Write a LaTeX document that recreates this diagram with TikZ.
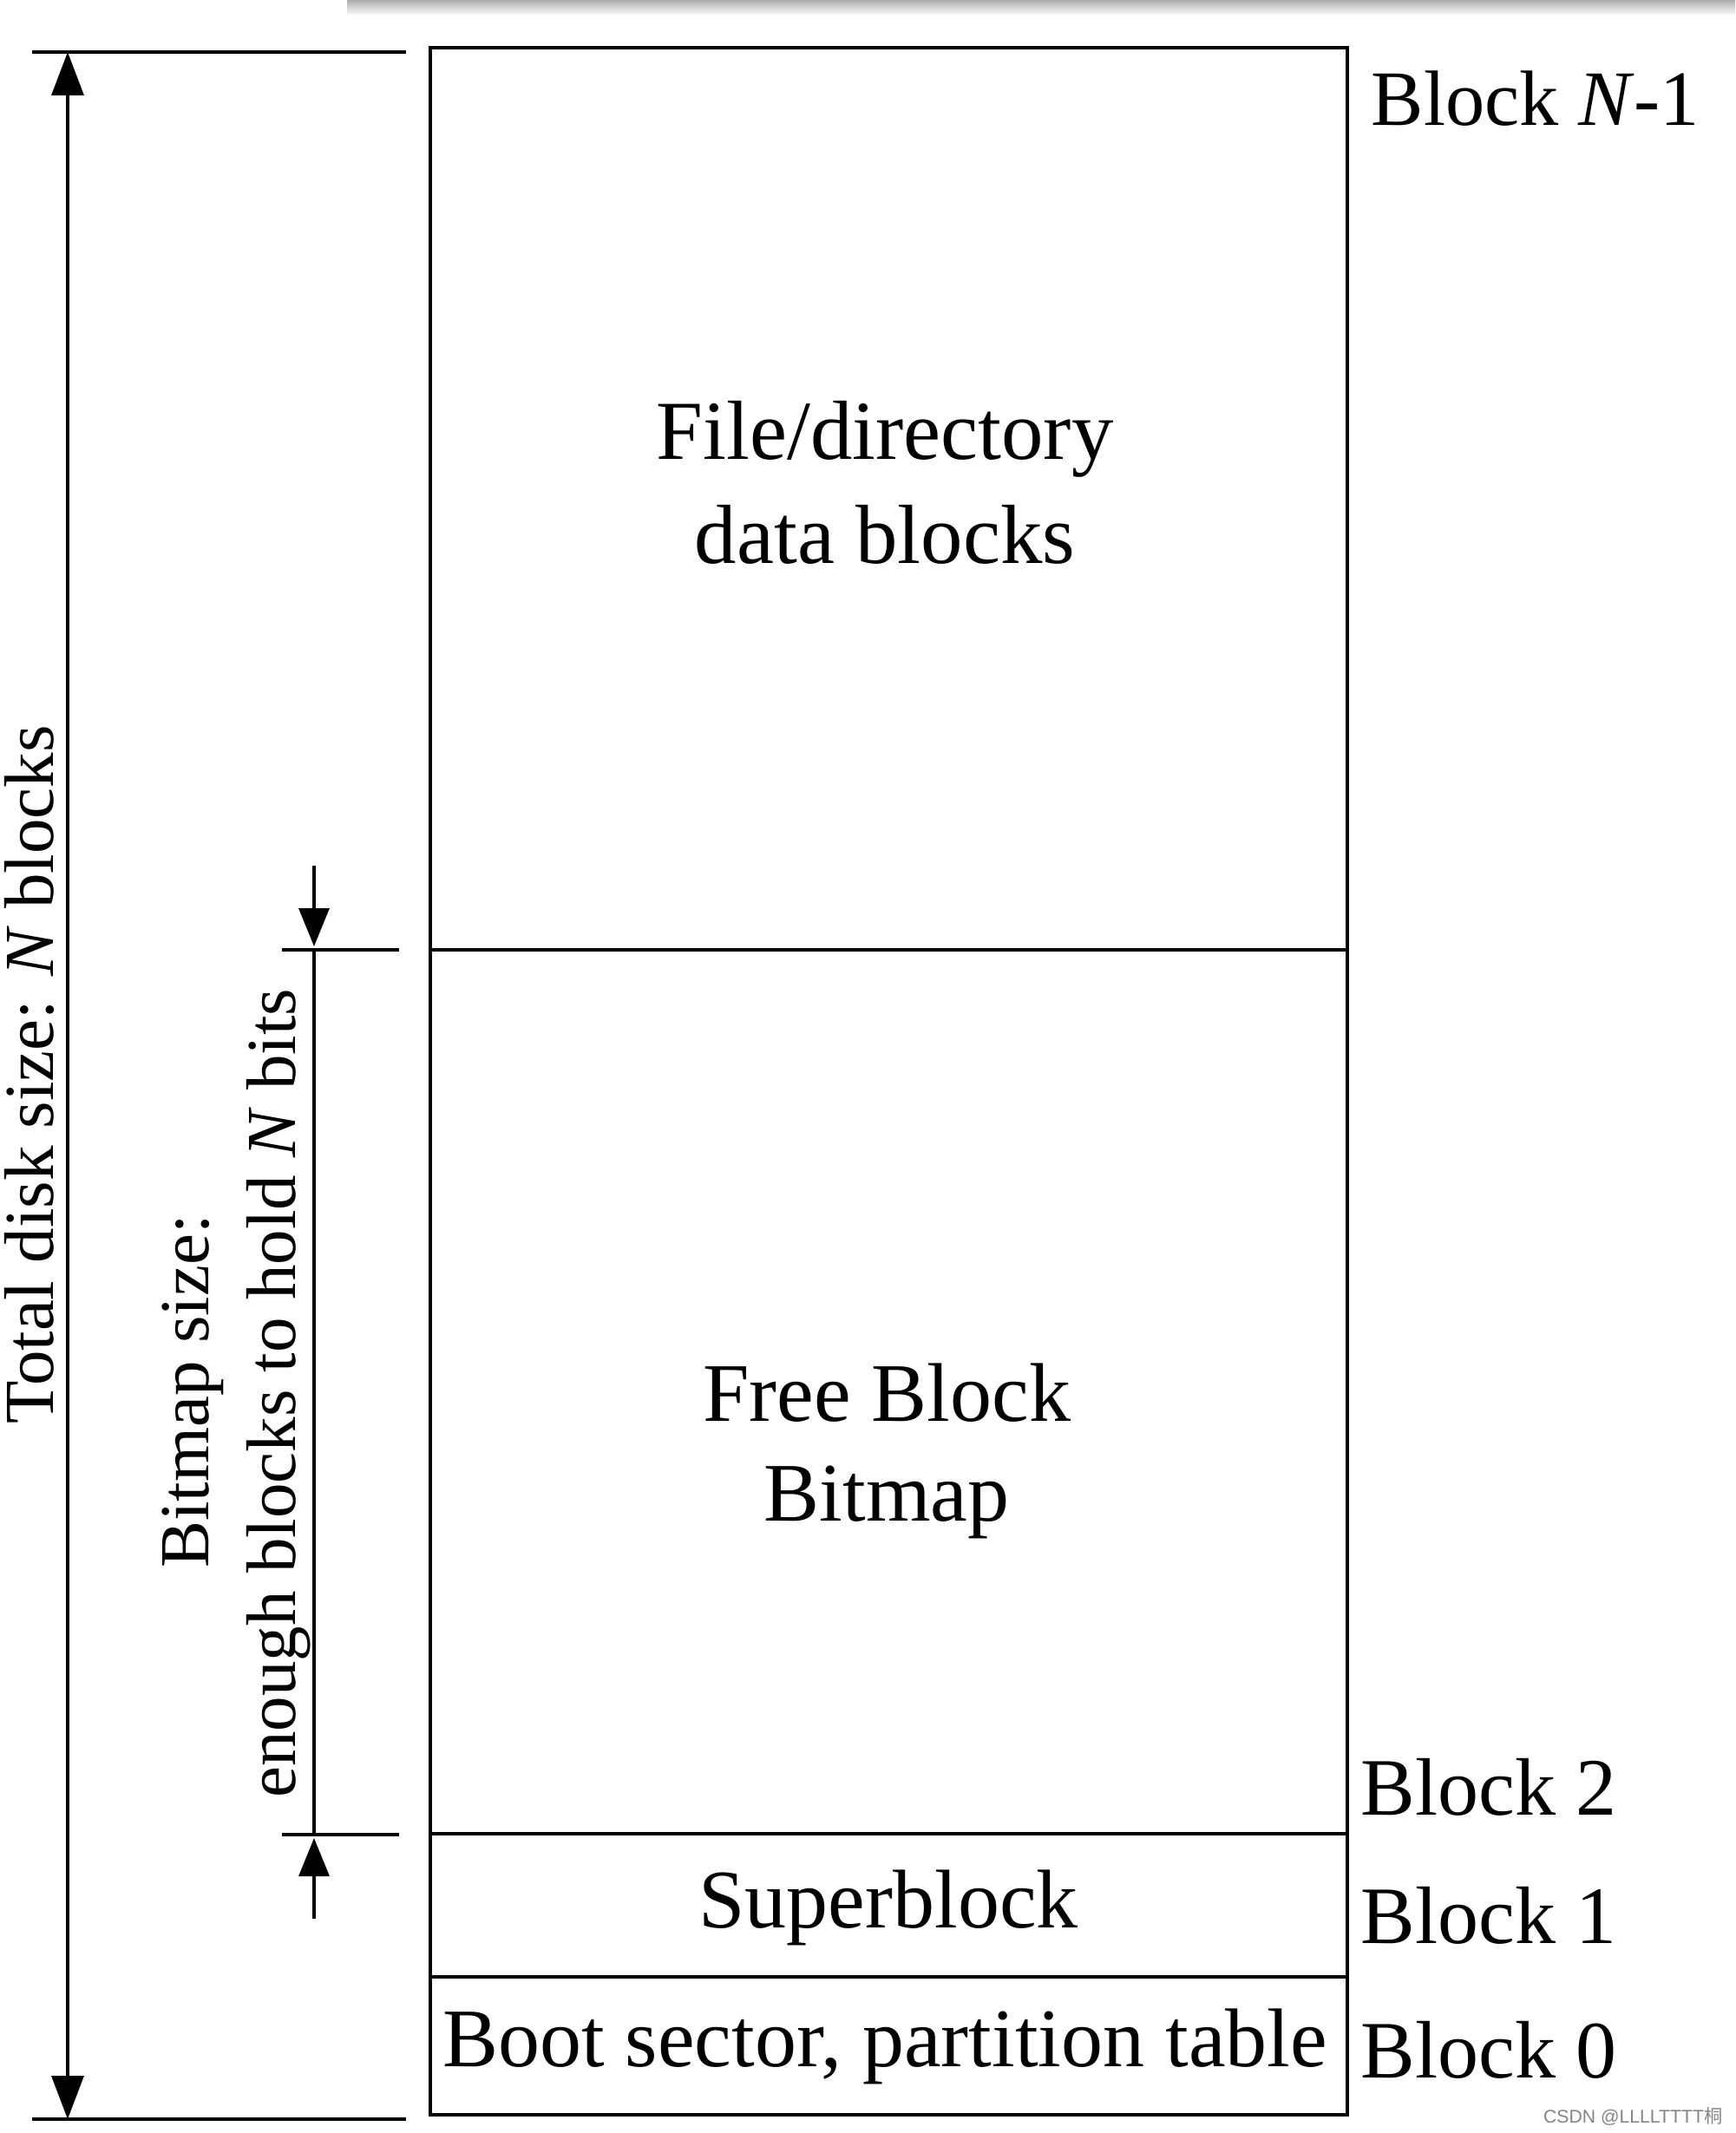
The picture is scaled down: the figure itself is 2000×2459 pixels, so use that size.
\documentclass[tikz,border=0pt]{standalone}
\usepackage{fontspec}
\setmainfont{Liberation Serif}
\newfontfamily\wmfont{Liberation Sans}
\newfontfamily\wmcjk{Noto Sans CJK SC}
\usetikzlibrary{arrows.meta}
\tikzset{
  bigtip/.tip={Triangle[length=12.5pt,width=9.25pt]},
  smalltip/.tip={Triangle[length=11pt,width=8.75pt]}
}
\begin{document}
\begin{tikzpicture}[x=0.25pt,y=-0.25pt,
  edge/.style={line width=0.85pt, black},
  lbl/.style={inner sep=0pt, font=\fontsize{24pt}{28pt}\selectfont},
  lblbig/.style={inner sep=0pt, font=\fontsize{24.2pt}{29pt}\selectfont},
  blk/.style={inner sep=0pt, anchor=base west, font=\fontsize{23.5pt}{28pt}\selectfont},
  rot/.style={inner sep=0pt, rotate=90, anchor=base, font=\fontsize{20.25pt}{24pt}\selectfont},
  wm/.style={inner sep=0pt, anchor=base east, text=black!48, font=\wmfont\fontsize{5.3pt}{6pt}\selectfont}]
\useasboundingbox (0,0) rectangle (2000,2459);
\fill[white] (0,0) rectangle (2000,2459);
% screenshot shadow at the top
\shade[top color=black!32, bottom color=white] (400,0) rectangle (2000,18);

% main column of blocks
\coordinate (bl) at (496,55);
\coordinate (br) at (1553,2438);
\draw[edge] (bl) rectangle (br);
\draw[edge] (496,1095) -- (1553,1095);
\draw[edge] (496,2114) -- (1553,2114);
\draw[edge] (496,2279) -- (1553,2279);

% texts inside
\node[lblbig, anchor=base] (fd1) at (1020,530) {File/directory};
\node[lblbig, anchor=base] (fd2) at (1020,650) {data blocks};
\node[lbl, anchor=base] (fb1) at (1022,1638) {Free Block};
\node[lbl, anchor=base] (fb2) at (1022,1753) {Bitmap};
\node[lbl, anchor=base] (sb) at (1024,2222) {Superblock};
\node[lbl, anchor=base] (bs) at (1020,2382) {Boot sector, partition table};

% block numbers
\node[blk, font=\fontsize{22.6pt}{27pt}\selectfont] (bN) at (1580,145) {Block \textit{N}-1};
\node[blk] (b2) at (1568,2092) {Block 2};
\node[blk] (b1) at (1568,2240) {Block 1};
\node[blk] (b0) at (1568,2395) {Block 0};

% total disk size dimension
\coordinate (tt) at (78,60);
\coordinate (tb) at (78,2443);
\draw[edge] (37,60) -- (468,60);
\draw[edge] (37,2443) -- (468,2443);
\draw[edge, {bigtip}-{bigtip}] (tt) -- (tb);
\node[rot] (tot) at (62,1239) {Total disk size: \textit{N} blocks};

% bitmap size dimension
\coordinate (mt) at (362,1095);
\coordinate (mb) at (362,2115);
\coordinate (mto) at (362,998);
\coordinate (mbo) at (362,2212);
\draw[edge] (325,1095) -- (460,1095);
\draw[edge] (325,2115) -- (460,2115);
\draw[edge] (mt) -- (mb);
\draw[edge, -{smalltip}] (mto) -- ([yshift=1pt]mt);
\draw[edge, -{smalltip}] (mbo) -- ([yshift=-1pt]mb);
\node[rot] (bm1) at (240,1604) {Bitmap size:};
\node[rot] (bm2) at (340,1606) {enough blocks to hold \textit{N} bits};

% watermark
\node[wm] (wmk) at (1986,2447) {CSDN @LLLLTTTT{\wmcjk 桐}};
\end{tikzpicture}
\end{document}
